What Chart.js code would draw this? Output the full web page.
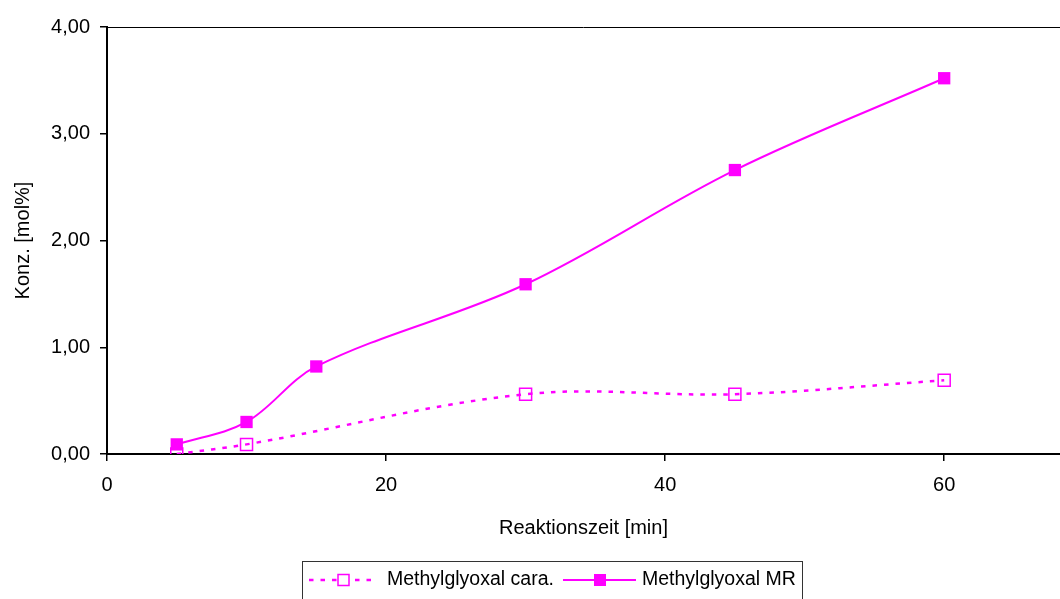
<!DOCTYPE html>
<html>
<head>
<meta charset="utf-8">
<script src="https://cdn.jsdelivr.net/npm/chart.js@4/dist/chart.umd.min.js"></script>
<style>
  html, body { margin: 0; padding: 0; background: #fff; overflow: hidden; }
  canvas { display: block; }
</style>
</head>
<body>
<canvas id="chart" width="1060" height="599"></canvas>
<script>
// values
const caraTimes = [5, 10, 30, 45, 60];
const caraConc = [0.00, 0.09, 0.56, 0.56, 0.69];
const mrTimes = [5, 10, 15, 30, 45, 60];
const mrConc = [0.09, 0.30, 0.82, 1.59, 2.66, 3.52];
const seriesNames = ["Methylglyoxal cara.", "Methylglyoxal MR"];
const xTitle = "Reaktionszeit [min]";
const yTitle = "Konz. [mol%]";

const magenta = "#FF00FF";
const font = "'Liberation Sans', Arial, sans-serif";
const dash = [4.5, 7];

function pts(xs, ys) {
    return xs.map((x, i) => ({ x: x, y: ys[i] }));
}

// top border of the plot area + boxed legend (lines with markers)
const extras = {
    id: "extras",
    afterDraw(chart) {
        const c = chart.ctx;
        const a = chart.chartArea;
        c.save();
        c.strokeStyle = "#000";
        c.lineWidth = 1;
        c.beginPath();
        c.moveTo(a.left, a.top + 0.5);
        c.lineTo(a.right, a.top + 0.5);
        c.stroke();

        // legend box
        c.strokeStyle = "#333";
        c.strokeRect(302.5, 561.5, 500, 60);

        const y = 580;
        c.strokeStyle = magenta;
        // cara: dashed
        c.lineWidth = 2.5;
        c.setLineDash(dash);
        c.beginPath();
        c.moveTo(309, y);
        c.lineTo(378, y);
        c.stroke();
        c.setLineDash([]);
        c.lineWidth = 1.5;
        c.fillStyle = "#fff";
        c.fillRect(338, y - 5.5, 11, 11);
        c.strokeRect(338, y - 5.5, 11, 11);
        // MR: solid
        c.lineWidth = 2;
        c.beginPath();
        c.moveTo(563, y);
        c.lineTo(636, y);
        c.stroke();
        c.fillStyle = magenta;
        c.fillRect(594, y - 6, 12, 12);

        c.fillStyle = "#000";
        c.font = "19.5px " + font;
        c.textBaseline = "middle";
        c.fillText(seriesNames[0], 387, y);
        c.fillText(seriesNames[1], 642, y);
        c.restore();
    }
};

new Chart(document.getElementById("chart"), {
    type: "line",
    data: {
        datasets: [
            {
                label: seriesNames[0],
                data: pts(caraTimes, caraConc),
                borderColor: magenta,
                borderWidth: 2.5,
                borderDash: dash,
                tension: 0.35,
                pointStyle: "rect",
                pointRadius: 8.5,
                pointBorderWidth: 1.5,
                pointBorderColor: magenta,
                pointBackgroundColor: "rgba(255,255,255,0)"
            },
            {
                label: seriesNames[1],
                data: pts(mrTimes, mrConc),
                borderColor: magenta,
                borderWidth: 2,
                tension: 0.35,
                pointStyle: "rect",
                pointRadius: 8.7,
                pointBorderWidth: 0,
                pointBackgroundColor: magenta
            }
        ]
    },
    plugins: [extras],
    options: {
        responsive: false,
        animation: false,
        layout: { autoPadding: false, padding: { top: 27, bottom: 37, left: 0, right: 0 } },
        plugins: {
            legend: { display: false },
            tooltip: { enabled: false }
        },
        scales: {
            x: {
                type: "linear",
                min: 0,
                max: 68.3,
                afterFit: (s) => { s.height = 108; s.paddingRight = 0; s.paddingLeft = 0; },
                border: { color: "#000", width: 2 },
                grid: { drawOnChartArea: false, tickLength: 7, color: "#000", lineWidth: 1.5 },
                ticks: {
                    stepSize: 20,
                    includeBounds: false,
                    padding: 12,
                    color: "#000",
                    font: { family: font, size: 20 },
                    maxRotation: 0
                },
                title: {
                    display: true,
                    text: xTitle,
                    color: "#000",
                    font: { family: font, size: 20 },
                    padding: { top: 0, bottom: 22 }
                }
            },
            y: {
                min: 0,
                max: 4,
                afterFit: (s) => { s.width = 107; s.paddingTop = 0; s.paddingBottom = 0; },
                border: { color: "#000", width: 2 },
                grid: { drawOnChartArea: false, tickLength: 7, color: "#000", lineWidth: 1.5 },
                ticks: {
                    stepSize: 1,
                    padding: 10,
                    color: "#000",
                    font: { family: font, size: 20 },
                    callback: (v) => v.toFixed(2).replace(".", ",")
                },
                title: {
                    display: true,
                    text: yTitle,
                    color: "#000",
                    font: { family: font, size: 20 },
                    padding: { top: 11, bottom: 0 }
                }
            }
        }
    }
});
</script>
</body>
</html>
